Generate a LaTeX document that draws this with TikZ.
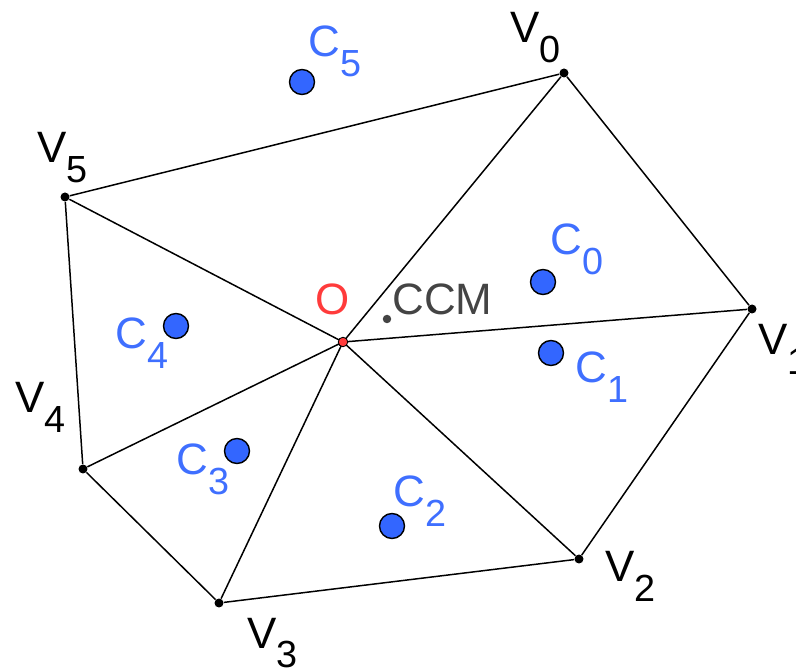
\documentclass[tikz,border=0pt]{standalone}
\usepackage{fontspec}
\setmainfont{Liberation Sans}
\usepackage{xcolor}
\definecolor{CBlue}{HTML}{3366FF}
\definecolor{CLabel}{HTML}{3F6FFF}
\definecolor{ORed}{HTML}{FF3B3B}
\definecolor{Grey}{HTML}{444444}
\tikzset{
 vtx/.style={circle, fill=black, inner sep=0pt, minimum size=0.18cm},
 cdot/.style={circle, fill=CBlue, draw=black, line width=0.8pt, inner sep=0pt, minimum size=0.5cm},
 odot/.style={circle, fill=ORed, draw=black, line width=0.5pt, inner sep=0pt, minimum size=0.19cm},
 mdot/.style={circle, fill=Grey, inner sep=0pt, minimum size=0.17cm},
 lbl/.style={anchor=base west, inner sep=0pt, font=\fontsize{25}{29}\selectfont},
 clbl/.style={lbl, text=CLabel},
 edge/.style={draw=black, line width=0.85pt}
}
\newcommand{\idx}[1]{\raisebox{-0.4cm}{\fontsize{21.5}{25}\selectfont #1}}

\begin{document}
\begin{tikzpicture}[x=0.02cm, y=-0.02cm]
\useasboundingbox (0,0) rectangle (796,669);
% polygon vertices and the interior point
\node[vtx] (v0) at (564,73) {};
\node[vtx] (v1) at (752,309) {};
\node[vtx] (v2) at (579,559) {};
\node[vtx] (v3) at (219,603) {};
\node[vtx] (v4) at (83,469) {};
\node[vtx] (v5) at (65,197) {};
\coordinate (o) at (343,342);
% outer boundary and spokes
\draw[edge] (v0)--(v1)--(v2)--(v3)--(v4)--(v5)--(v0);
\foreach \i in {0,...,5} \draw[edge] (o)--(v\i);
\node[odot] (odt) at (o) {};
\node[mdot] (ccm) at (387,319) {};
% centroids
\node[cdot] (c0) at (543,282) {};
\node[cdot] (c1) at (551,353) {};
\node[cdot] (c2) at (392,526) {};
\node[cdot] (c3) at (237,451) {};
\node[cdot] (c4) at (176,326) {};
\node[cdot] (c5) at (302,82) {};
% labels
\node[lbl] (lv0) at (510,43) {V\idx{0}};
\node[lbl] (lv1) at (758,355) {V\idx{1}};
\node[lbl] (lv2) at (605,582) {V\idx{2}};
\node[lbl] (lv3) at (247,648) {V\idx{3}};
\node[lbl] (lv4) at (15,413) {V\idx{4}};
\node[lbl] (lv5) at (37,163) {V\idx{5}};
\node[clbl] (lc0) at (550,255) {C\idx{0}};
\node[clbl] (lc1) at (575,383) {C\idx{1}};
\node[clbl] (lc2) at (393,507) {C\idx{2}};
\node[clbl] (lc3) at (176,475) {C\idx{3}};
\node[clbl] (lc4) at (115,349) {C\idx{4}};
\node[clbl] (lc5) at (308,57) {C\idx{5}};
\node[lbl, text=ORed] (lo) at (315,315) {O};
\node[lbl, text=Grey] (lccm) at (392,315) {CCM};
\end{tikzpicture}
\end{document}
